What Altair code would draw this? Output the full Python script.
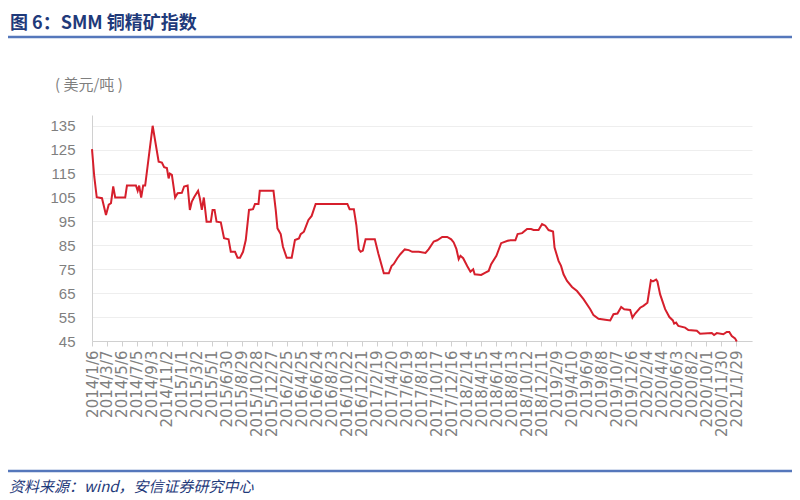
import altair as alt
import pandas as pd

title_text = "图 6：SMM 铜精矿指数"
unit_text = "( 美元/吨 )"
source_text = "资料来源：wind，安信证券研究中心"

start_date = "2014-01-06"
axis_end_date = "2021-04-03"

# days since 2014-01-06
day_offsets = [
    0, 9, 19, 40, 56, 67, 76, 85, 93, 133,
    140, 176, 183, 189, 197, 205, 213, 243, 267, 280,
    289, 300, 307, 312, 320, 333, 343, 360, 369, 383,
    392, 400, 409, 425, 432, 440, 448, 459, 476, 483,
    491, 499, 516, 529, 547, 556, 573, 583, 593, 605,
    616, 629, 645, 653, 667, 672, 727, 736, 743, 756,
    765, 780, 800, 813, 829, 836, 849, 867, 880, 896,
    1023, 1032, 1049, 1059, 1069, 1076, 1085, 1096, 1133, 1147,
    1169, 1189, 1200, 1209, 1223, 1236, 1253, 1269, 1283, 1309,
    1336, 1349, 1369, 1383, 1403, 1423, 1439, 1449, 1460, 1469,
    1476, 1487, 1503, 1516, 1527, 1533, 1559, 1576, 1589, 1599,
    1620, 1639, 1665, 1676, 1696, 1705, 1723, 1743, 1759, 1769,
    1789, 1803, 1816, 1829, 1847, 1853, 1869, 1879, 1889, 1903,
    1923, 1943, 1969, 1996, 2009, 2029, 2056, 2076, 2089, 2105,
    2120, 2132, 2156, 2165, 2176, 2196, 2209, 2225, 2239, 2247,
    2260, 2265, 2276, 2296, 2313, 2327, 2332, 2340, 2349, 2376,
    2389, 2423, 2436, 2483, 2492, 2503, 2529, 2543, 2553, 2563,
    2576, 2583,
]

index_values = [
    125.2, 113.8, 105.1, 104.7, 97.7, 102, 102.6, 109.6, 105, 105,
    110, 110, 107.8, 110, 105, 110, 110, 135, 120, 119.6,
    117.7, 117.3, 113, 115, 114.5, 105, 106.8, 107, 109.6, 110,
    99.8, 103.3, 105.1, 107.8, 104.7, 99.8, 105, 94.9, 94.9, 99.8,
    99.8, 94.9, 94.6, 88, 87.5, 82.3, 82.3, 79.8, 79.8, 82.3,
    87.2, 99.8, 100.1, 102.3, 102.3, 107.8, 107.8, 99.8, 92.1, 89.7,
    84.4, 79.8, 79.8, 87.2, 87.9, 89.7, 90.7, 95.6, 97.3, 102.3,
    102.3, 100.1, 100.1, 93.5, 83.3, 82.3, 82.8, 87.5, 87.5, 81.6,
    73.3, 73.3, 76.3, 77.2, 79.6, 81.4, 83.3, 83, 82.3, 82.3,
    81.8, 83.4, 86.6, 87.1, 88.5, 88.5, 87.5, 86.2, 83.4, 79.2,
    80.6, 79.6, 76.4, 74.0, 75.0, 72.9, 72.6, 73.6, 74.3, 77.1,
    80.6, 85.9, 86.9, 87.1, 87.1, 89.7, 90.1, 91.8, 91.8, 91.4,
    91.4, 93.9, 93.2, 91.4, 90.8, 84.1, 78.5, 76.4, 72.9, 70.1,
    67.6, 65.9, 62.5, 58.3, 55.8, 54.3, 53.9, 53.6, 56.2, 56.5,
    59.2, 58.3, 58.0, 54.8, 56.5, 58.9, 59.7, 61.0, 70.4, 69.9,
    70.7, 69.9, 64.5, 58.3, 55.0, 53.6, 52.3, 52.7, 51.3, 50.6,
    49.6, 49.3, 48.0, 48.3, 47.5, 48.3, 47.8, 48.8, 48.8, 47.1,
    46.1, 44.8,
]

tick_labels = [
    "2014/1/6", "2014/3/7", "2014/5/6", "2014/7/5", "2014/9/3", "2014/11/2",
    "2015/1/1", "2015/3/2", "2015/5/1", "2015/6/30", "2015/8/29", "2015/10/28",
    "2015/12/27", "2016/2/25", "2016/4/25", "2016/6/24", "2016/8/23", "2016/10/22",
    "2016/12/21", "2017/2/19", "2017/4/20", "2017/6/19", "2017/8/18", "2017/10/17",
    "2017/12/16", "2018/2/14", "2018/4/15", "2018/6/14", "2018/8/13", "2018/10/12",
    "2018/12/11", "2019/2/9", "2019/4/10", "2019/6/9", "2019/8/8", "2019/10/7",
    "2019/12/6", "2020/2/4", "2020/4/4", "2020/6/3", "2020/8/2", "2020/10/1",
    "2020/11/30", "2021/1/29",
]

y_ticks = [45, 55, 65, 75, 85, 95, 105, 115, 125, 135]


def to_ms(s):
    return int(pd.Timestamp(s).tz_localize("UTC").timestamp() * 1000)


dates = (pd.Timestamp(start_date) + pd.to_timedelta(day_offsets, unit="D")).strftime("%Y-%m-%d")
df = pd.DataFrame({"date": list(dates), "value": index_values})

tick_ms = [to_ms(pd.to_datetime(t)) for t in tick_labels]
x_domain = [to_ms(start_date), to_ms(axis_end_date)]

W, H = 660, 226
PL, PT = 84, 107

line = alt.Chart(df).mark_line(color="#d61f2c", strokeWidth=2).encode(
    x=alt.X(
        "date:T",
        title=None,
        scale=alt.Scale(type="utc", domain=x_domain, nice=False),
        axis=alt.Axis(
            values=tick_ms,
            labelExpr="utcFormat(datum.value, '%Y/%-m/%-d')",
            labelAngle=270,
            labelFont="DejaVu Sans",
            labelFontSize=15,
            labelColor="#808080",
            labelPadding=4,
            labelOverlap=False,
            labelFlush=False,
            labelBound=False,
            domainColor="#d0d0d0",
            domainWidth=1,
            ticks=True,
            tickColor="#d0d0d0",
            tickSize=5,
            grid=False,
        ),
    ),
    y=alt.Y(
        "value:Q",
        title=None,
        scale=alt.Scale(domain=[45, 139.5], nice=False, zero=False),
        axis=alt.Axis(
            values=y_ticks,
            labelFont="Liberation Sans",
            labelFontSize=15,
            labelColor="#7f7f7f",
            labelPadding=17,
            ticks=False,
            domainColor="#d0d0d0",
            grid=True,
            gridColor="#eeeeee",
            gridWidth=1,
        ),
    ),
)

title_layer = alt.Chart(pd.DataFrame({"t": [title_text]})).mark_text(
    font="Noto Sans CJK SC", fontWeight="bold", fontSize=18, color="#1f3a7a",
    align="left", baseline="middle",
).encode(text="t:N", x=alt.value(10 - 92), y=alt.value(24 - 115))

unit_layer = alt.Chart(pd.DataFrame({"t": [unit_text]})).mark_text(
    font="Noto Sans CJK SC", fontSize=15, color="#7f7f7f",
    align="left", baseline="middle",
).encode(text="t:N", x=alt.value(55 - 92), y=alt.value(85 - 115))

source_layer = alt.Chart(pd.DataFrame({"t": [source_text]})).mark_text(
    font="Noto Sans CJK SC", fontSize=15, fontStyle="italic", color="#1f3a7a",
    align="left", baseline="middle",
).encode(text="t:N", x=alt.value(9 - 92), y=alt.value(487 - 115))

top_rule = alt.Chart(pd.DataFrame({"a": [0]})).mark_rule(color="#5577bb", strokeWidth=2.5).encode(
    x=alt.value(8 - 92), x2=alt.value(797 - 92), y=alt.value(37 - 115)
)
bottom_rule = alt.Chart(pd.DataFrame({"a": [0]})).mark_rule(color="#5577bb", strokeWidth=2.5).encode(
    x=alt.value(8 - 92), x2=alt.value(797 - 92), y=alt.value(471 - 115)
)

chart = alt.layer(line, title_layer, unit_layer, source_layer, top_rule, bottom_rule).properties(
    width=W,
    height=H,
    autosize=alt.AutoSizeParams(type="none"),
    padding={"left": PL, "top": PT, "right": 40, "bottom": 154},
).configure(
    background="white",
    view=alt.ViewConfig(strokeWidth=0, stroke="transparent"),
)

chart.save("out.html", embed_options={"renderer": "svg", "actions": False})
